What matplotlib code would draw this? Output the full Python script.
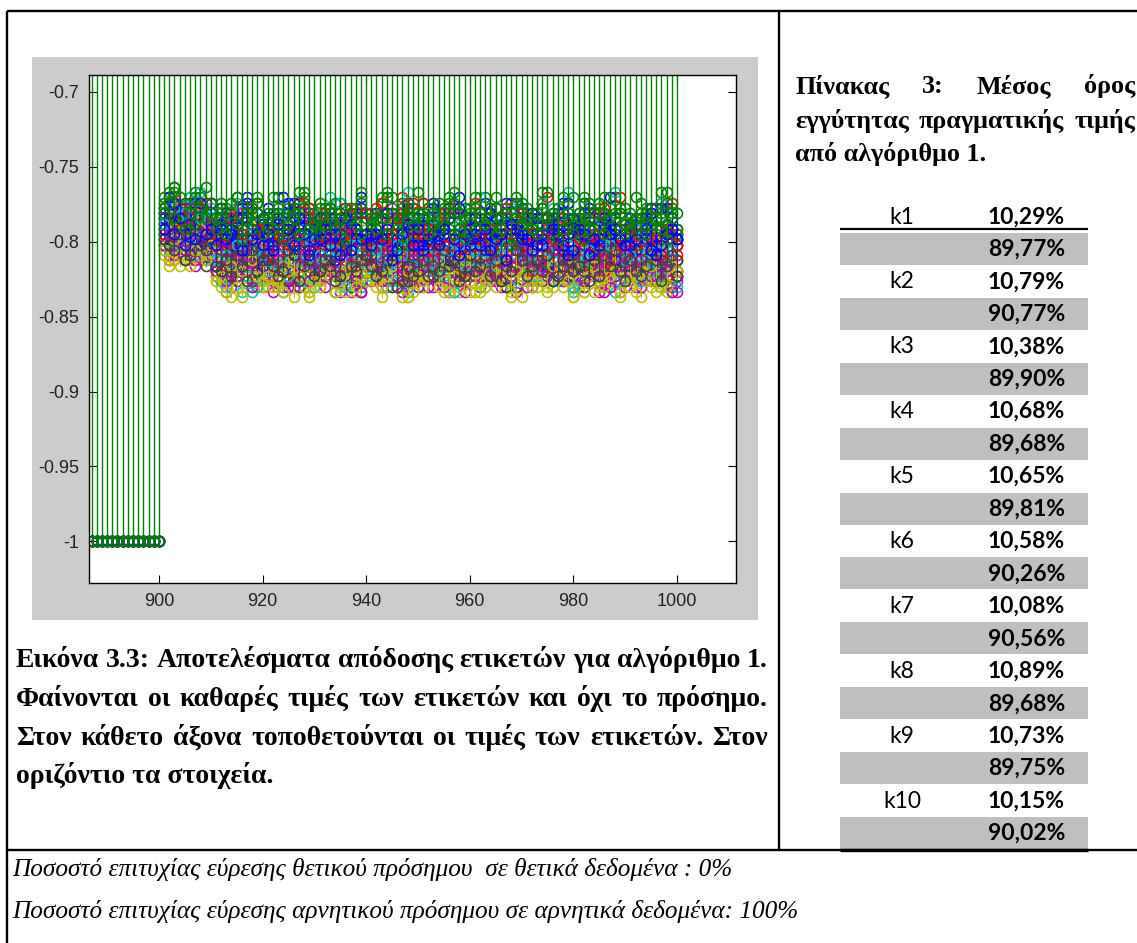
import numpy as np
import matplotlib
matplotlib.use("Agg")
import matplotlib.pyplot as plt
from matplotlib.patches import Rectangle
from matplotlib.ticker import FuncFormatter

plt.rcParams["axes.unicode_minus"] = False

# ---------------- data ----------------
# elements 887..900: every run gives the label value -1
x_flat = list(range(887, 901))
flat_value = -1.0
# elements 901..1000: one string per run, one letter per element
# 'a' = -0.760, each next letter 0.0035 lower
x_runs = list(range(901, 1001))
runs = [
    "fjhmkeilgj kfmhqjdlnj hoklerjmgk mjfpkhnjlq ilrkgmjeok kqhjmflsjh nkejplhkmf jhmrkgilen lekhnjqkgm hmjkfolirk",
    "dhbgifcjeh jegihlfkdi gkdjnhemig ifmheogjck hjecpigkfj eikgjdmhqf kgdihnfjei fjlhcigomh idgkfjhdli gmeihkcjfp",
    "gkdlifmhje nhqkfmoitl jmgprkelnh qkjmhsnfmo lfnikpdqjm eojrmhlgsk mknfqjoilr hpledmktjn okhqnflmdp kjnsgmeqlj",
    "jemkghnclf sknqevoirm ogtlnjqfpu mrdpioslvk qjnumgpcro lsohtkniqf pdrmkqujno nuglpfsmcr iqoskmhvpl rmjoqtenkp",
    "lhofjmkgni qnvlpgsmoj mtkrohupfq sgpnvjlrmo kqumfsoiqt phrlmvgnsk rnjqtolevp oslhrkpnqj uklpgsqmvn nqtiompros",
    "mjpgnlhoek rotmsquhpn uksprgntwq pqlvnrfsoj tmqhuopwrl nusjqkrvmq qgtolspirw sprfuhqntk ovlqtjmsgp rhwnpsouql",
    "kigmjhfnlj ptlrnhqoms nqjuofrmpk rhoslnqgtm mrkpuiosnq qlsnjptkrh oupgrmlqns lmqtokspir sjnrpgumoq nskoqtjrlp",
    "hdkiflejmg ljgnhkemqi fmkdjpilhn kqhimfljdo jglkrhmfkj mhejkogdnl hnkmflqjig kgiphkmejs jlfnkhdmpk ikqgmjnfhl",
    "egcihdjfbg hkfjdmgieh jdiglfkchn fhmejigplg ikgdhnejfi gfjkiecmhk dlhfoigjei jgickhfnhd hemjgdiklf kihfnjgchm",
    "fmhkejlgni jnlgqkmfpl omhlsjneki kgqniflrmo nlemkpgjtk lrkhonfmjq ehnljsqkmg qkmeonlhrj mjrlgpkons ilnqkfmjeo",
    "hnfljdmkgo ptmkrnjvqo lrpgsmoukq qlnvehptmr onrkqsjmlu smhprnvkoq kpuqlotfrn tjoerqmsnp mrkqnupcot pojsmlqrvk",
    "kolhnfpjmi smpuqkorln pvnlthqmsr nqsjopvkqm rlqtnmsupo ouknrqlpvs qsnrlupmok mptoqhsrnu sqpkvnmtrp purmqosjnv",
    "lqhmokgpnj tqpwrnsumq qsurmtpovs usqnrvkqtp pruosqmwrt sqltpurnqv rvpqsnotul qtsrmuprsw uoqvrptmqs tsqpurnvqr",
    "lgnjkomhpi rnsmtqlopu oqlrpnuhsm smoqkrnptl nrqolupmsq pnsmqrtolr qlorsnpkum rpkqnmsorp oumrqplsnq qsnolrpuom",
    "ikegljhfmk kfnjlhpkgm mjhqkenlji hlkmgojkfp kohjlqilmh jmflkhnrkj ljqgmkeilo nkhljpmgkj kgmonjlhqk jqkhlmfknl",
    "gcihejfdhg ifkhdjlgeh hjfmigckji eigjhnfhlg jhdkgifmhc hlgeijkgfo fhmjdhgile igkfhnjdhj ghejlifkgi jdhignhejk",
    "ihmfkgjlen mqkniolrjp kolrmhqnfm plmjskogqn mrhnlpkten qjomgnrlpk lnskqmfojr okmpjrnlsh rmlgonkqmj nkqmrlpjom",
    "nkflimojhp pruoqmsknt smqvnprloj orntksqmup qmsprolvnr uoqlnrtmsk rnpsmqkuoq pqrkotnmrv otnqrmpsjo spmorquknr",
    "jpmhnkqloi rtnqsporuo sqomutrpqn pusqrnotvq tornqsvprm qrusomqnts osqtprunqp uprqmtsopr qtospvrnqu rpuqnsorpt",
    "omjqlpnhok sutqrwpsqt rqtvsprusq tsrpuqsvqr qusrtpwqsu usqrvtqprs stuqpsrvqt rquspqtsrw tprsuqrqvs svqrtpusqr",
    "mjolpnikqm qpsornptoq pnrqtosmrp rqponsuqnt osqrpmqtor qpnsrorqps nrqpoturnq sopqrnpqso pqsotqnrpq qnrpoqspur",
    "hlejkgmije lihmkfnjkq jmklgokhnj nhjpkmilgk kjmgnlhqjm mkiljpkfnl jlnkhmljrk lgmkqijnkh kmjnlhkpjm inklgmqkjl",
    "fibhgjdhgk hgjeikhfjh igkhfjgdih jhfigmhjeg gjhkdihgkj hfimhgejhi kgijfhlgdh hjgfihkjgi gihjegjhfk ihgkjfhigj",
    "kgmjhnlfik lqmhokrnjm nkpmjslohq mjrlnqkpmg qlmokhrnls kpnjmqlsom oljnrmkqhp mrkpolnjqm lnqmkrpmjo pmkqnloskr",
    "inkmgolhjn ptoqmrsnuo rnqosmptlq oqsnrupmor snpqtmorqu pqrosnvmqp nrtpqomsrn qosrnptqmu rpnqsomrtp oqtprnsqou",
    "mkolnhpmjo rqtpsoruqp qsprnuqotr psqrtoqsvp rqtopsqrnu qspruqtopr srqotprsqn purqsnqtrp qtosrpusqo rqptsoqrvs",
    "nplomqnjpm tsvqurtpsu sutqrwsqvt uqsvtrqust rtwsqutrvs tsqurvsupt vrtsuqtwrs sutrvqsutq rvsqtusrwt usrtqvtusr",
    "lmnkpojmnl qrpsoqtnrp pqsrnotqps rpqtsnqrpo qsrpoutqsr psqrnqptso rqosptqrnp sqprotsqpr qrtpsoqnrt prsqnptqos",
    "jgkhmilekj mjlkinhlkm kniljmhkol ljmkohnjlk mkljpnkimj nlkmjhlokm kmjnlkpijl lnkmhjkmon jkolmikjlm mlkjnomkjl",
    "gehdjgifhe jhkgilhjgk hjglihkfji kigjhlgikh ijhkgjmhig hkijfhkjlg jgihkjgmhi gjkihgljhk hljgikhgji jhkgihjlhg",
]
# MATLAB default colour order, cycled over the runs
run_colors = ["#0000ff", "#008000", "#ff0000", "#00bfbf", "#bf00bf", "#bfbf00", "#404040"]

x_ticks = [900, 920, 940, 960, 980, 1000]
y_ticks = [-1, -0.95, -0.9, -0.85, -0.8, -0.75, -0.7]

table_labels = ["k1", "k2", "k3", "k4", "k5", "k6", "k7", "k8", "k9", "k10"]
table_first = [10.29, 10.79, 10.38, 10.68, 10.65, 10.58, 10.08, 10.89, 10.73, 10.15]
table_second = [89.77, 90.77, 89.90, 89.68, 89.81, 90.26, 90.56, 89.68, 89.75, 90.02]

caption_lines = [
    "Εικόνα 3.3: Αποτελέσματα απόδοσης ετικετών για αλγόριθμο 1.",
    "Φαίνονται οι καθαρές τιμές των ετικετών και όχι το πρόσημο.",
    "Στον κάθετο άξονα τοποθετούνται οι τιμές των ετικετών. Στον",
    "οριζόντιο τα στοιχεία.",
]
title_lines = ["Πίνακας 3: Μέσος όρος", "εγγύτητας πραγματικής τιμής", "από αλγόριθμο 1."]
bottom_lines = [
    "Ποσοστό επιτυχίας εύρεσης θετικού πρόσημου  σε θετικά δεδομένα : 0%",
    "Ποσοστό επιτυχίας εύρεσης αρνητικού πρόσημου σε αρνητικά δεδομένα: 100%",
]

# ---------------- page ----------------
W, H = 1137, 943
fig = plt.figure(figsize=(W / 100, H / 100), dpi=100)
fig.patch.set_facecolor("white")

# overlay axes in pixel coordinates for the document parts
ov = fig.add_axes([0, 0, 1, 1])
ov.set_xlim(0, W)
ov.set_ylim(H, 0)
ov.axis("off")

# matlab figure background
ov.add_patch(Rectangle((32, 57), 726, 563, facecolor="#cccccc", edgecolor="none"))

# document table borders
lw_doc = 1.7
ov.plot([7, 7], [11, H], color="black", lw=lw_doc, solid_capstyle="butt")
ov.plot([7, W], [11, 11], color="black", lw=lw_doc, solid_capstyle="butt")
ov.plot([779, 779], [11, 850], color="black", lw=lw_doc, solid_capstyle="butt")
ov.plot([7, W], [850, 850], color="black", lw=lw_doc, solid_capstyle="butt")

renderer = fig.canvas.get_renderer()


def text_width(s, **kw):
    t = ov.text(0, 0, s, **kw)
    w = t.get_window_extent(renderer).width
    t.remove()
    return w


def justified(s, x0, x1, y, **kw):
    words = s.split(" ")
    widths = [text_width(w, **kw) for w in words]
    gap = (x1 - x0 - sum(widths)) / (len(words) - 1)
    x = x0
    for w, wd in zip(words, widths):
        ov.text(x, y, w, ha="left", va="baseline", **kw)
        x += wd + gap


serif_bold = dict(family="Liberation Serif", weight="bold")
cap_size = 10 * 752 / text_width(caption_lines[0], fontsize=10, **serif_bold)
title_size = 10 * 336 / text_width(title_lines[1], fontsize=10, **serif_bold)

# caption under the plot
cap_base = [667, 706, 745, 783]
for i, line in enumerate(caption_lines):
    if i < 3:
        justified(line, 16, 768, cap_base[i], fontsize=cap_size, **serif_bold)
    else:
        ov.text(16, cap_base[i], line, fontsize=cap_size, va="baseline", **serif_bold)

# table title
title_base = [93, 128, 161]
justified(title_lines[0], 795, 1135, title_base[0], fontsize=title_size, **serif_bold)
justified(title_lines[1], 795, 1135, title_base[1], fontsize=title_size, **serif_bold)
ov.text(795, title_base[2], title_lines[2], fontsize=title_size, va="baseline", **serif_bold)

# table
row0, pitch = 217, 32.45
tab_font = "Lato"
tab_size = 16.5
for i, (lab, a, b) in enumerate(zip(table_labels, table_first, table_second)):
    yc = row0 + 2 * i * pitch
    yg = yc + pitch
    ov.add_patch(Rectangle((840, yg - 16.5), 248, 32, facecolor="#bfbfbf", edgecolor="none"))
    ov.text(902, yc, lab, ha="center", va="center", fontsize=tab_size, family=tab_font)
    ov.text(1065, yc, f"{a:.2f}%".replace(".", ","), ha="right", va="center",
            fontsize=tab_size, family=tab_font, weight="bold")
    ov.text(1065, yg, f"{b:.2f}%".replace(".", ","), ha="right", va="center",
            fontsize=tab_size, family=tab_font, weight="bold")
ov.plot([840, 1088], [229, 229], color="black", lw=1.6, solid_capstyle="butt")
ov.plot([840, 1088], [850, 850], color="black", lw=2.4, solid_capstyle="butt")

# bottom italic lines
ital = dict(family="Liberation Serif", style="italic")
bot_size = 10 * 723 / text_width(bottom_lines[0], fontsize=10, **ital)
for y, line in zip([876, 918], bottom_lines):
    ov.text(12, y, line, fontsize=bot_size, va="baseline", **ital)

# ---------------- matlab stem plot ----------------
left, right, top, bottom = 89, 736, 75, 583
ax = fig.add_axes([left / W, (H - bottom) / H, (right - left) / W, (bottom - top) / H])
ax.set_facecolor("white")

n_runs = len(runs)
for i, s in enumerate(runs):
    s = s.replace(" ", "")[:len(x_runs)]
    vals = [-0.760 - 0.0035 * (ord(c) - ord("a")) for c in s]
    xs = x_flat + x_runs[:len(vals)]
    ys = [flat_value] * len(x_flat) + vals
    col = run_colors[i % len(run_colors)]
    last = i == n_runs - 1
    ax.vlines(xs, ys, 0, colors=col, lw=1.0 if last else 0.72,
              antialiased=last, zorder=2 + 2 * i)
    ax.plot(xs, ys, "o", ms=7.2, mfc="none", mec=col, mew=1.15, zorder=3 + 2 * i)

ax.set_xlim(886.5, 1011.4)
ax.set_ylim(-1.0277, -0.6889)
ax.set_xticks(x_ticks)
ax.set_yticks(y_ticks)
ax.yaxis.set_major_formatter(FuncFormatter(lambda v, p: f"{v:g}"))
ax.tick_params(direction="in", length=6, width=0.8, top=True, right=True,
               labelsize=13, labelcolor="#222222", pad=7)
for lab in ax.get_xticklabels() + ax.get_yticklabels():
    lab.set_family("Liberation Sans")
for sp in ax.spines.values():
    sp.set_linewidth(1.0)
    sp.set_zorder(100)

fig.savefig("out.png", dpi=100, facecolor="white")
